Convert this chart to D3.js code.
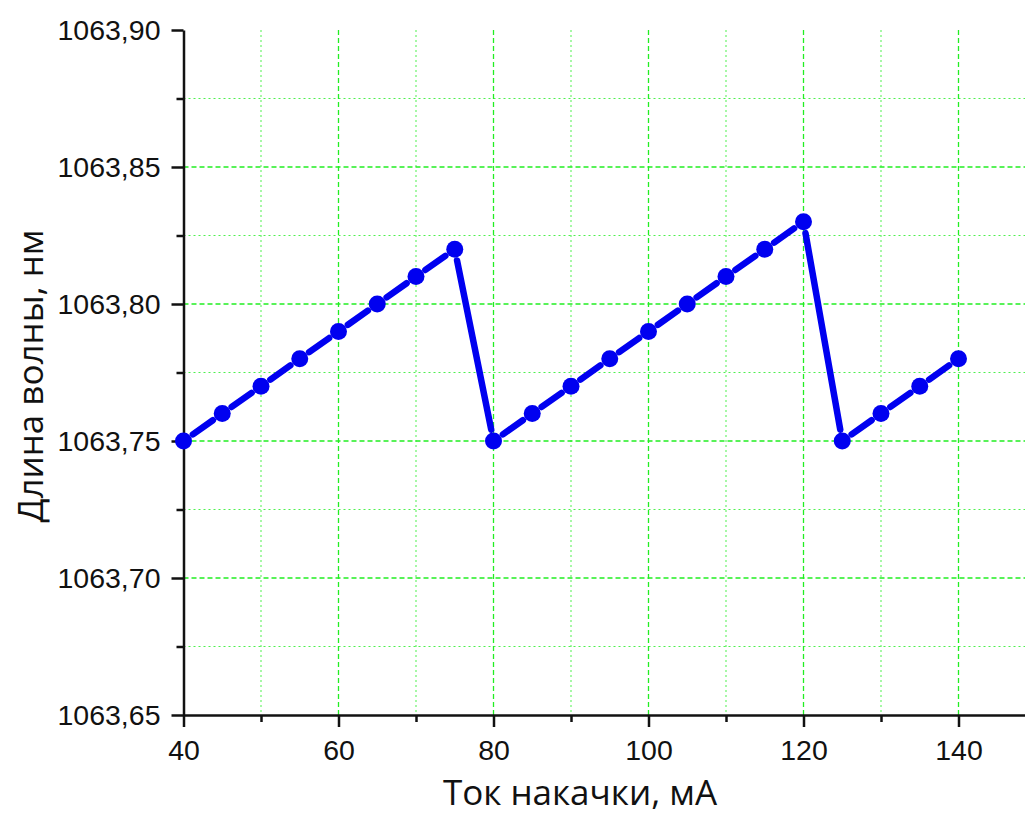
<!DOCTYPE html>
<html>
<head>
<meta charset="utf-8">
<style>
    body, html { margin: 0; padding: 0; background: #fff; }
    svg { display: block; }
</style>
</head>
<body>
<svg width="1025" height="817"></svg>
<script src="https://d3js.org/d3.v7.min.js"></script>
<script>
    // data
    var current = [40, 45, 50, 55, 60, 65, 70, 75, 80, 85, 90, 95, 100, 105, 110, 115, 120, 125, 130, 135, 140];
    var wavelength = [1063.75, 1063.76, 1063.77, 1063.78, 1063.79, 1063.80, 1063.81, 1063.82,
                      1063.75, 1063.76, 1063.77, 1063.78, 1063.79, 1063.80, 1063.81, 1063.82, 1063.83,
                      1063.75, 1063.76, 1063.77, 1063.78];
    var xMajor = [40, 60, 80, 100, 120, 140];
    var xMinor = [50, 70, 90, 110, 130, 150];
    var yMajor = [1063.65, 1063.70, 1063.75, 1063.80, 1063.85, 1063.90];
    var yMinor = [1063.675, 1063.725, 1063.775, 1063.825, 1063.875];

    var svg = d3.select("svg");
    var W = 1025, H = 817;

    var x = d3.scaleLinear().domain([40, 150]).range([183.5, 1036]);
    var y = d3.scaleLinear().domain([1063.65, 1063.90]).range([715, 30]);

    svg.append("rect").attr("width", W).attr("height", H).attr("fill", "#fff");

    var grid = svg.append("g");
    var gridColor = "#22ee22";

    // vertical grid
    grid.selectAll(".vmaj").data(xMajor.slice(1)).enter().append("line")
        .attr("x1", d => x(d)).attr("x2", d => x(d))
        .attr("y1", y(1063.90)).attr("y2", y(1063.65))
        .attr("stroke", gridColor).attr("stroke-width", 1.3).attr("stroke-dasharray", "5,3");
    grid.selectAll(".vmin").data(xMinor).enter().append("line")
        .attr("x1", d => x(d)).attr("x2", d => x(d))
        .attr("y1", y(1063.90)).attr("y2", y(1063.65))
        .attr("stroke", gridColor).attr("stroke-opacity", 0.8).attr("stroke-width", 1).attr("stroke-dasharray", "2,3");

    // horizontal grid
    grid.selectAll(".hmaj").data(yMajor.slice(1, -1)).enter().append("line")
        .attr("x1", x(40)).attr("x2", x(150))
        .attr("y1", d => y(d)).attr("y2", d => y(d))
        .attr("stroke", gridColor).attr("stroke-width", 1.3).attr("stroke-dasharray", "5,3");
    grid.selectAll(".hmin").data(yMinor).enter().append("line")
        .attr("x1", x(40)).attr("x2", x(150))
        .attr("y1", d => y(d)).attr("y2", d => y(d))
        .attr("stroke", gridColor).attr("stroke-opacity", 0.8).attr("stroke-width", 1).attr("stroke-dasharray", "2,3");

    // axes
    var fmtY = d => d3.format(".2f")(d).replace(".", ",");

    svg.append("g").attr("transform", "translate(0," + y(1063.65) + ")")
        .call(d3.axisBottom(x).tickValues(xMajor).tickSize(12).tickPadding(13).tickSizeOuter(0));
    svg.append("g").attr("transform", "translate(0," + y(1063.65) + ")")
        .call(d3.axisBottom(x).tickValues(xMinor).tickSize(7).tickFormat("").tickSizeOuter(0))
        .select(".domain").remove();

    svg.append("g").attr("transform", "translate(" + x(40) + ",0)")
        .call(d3.axisLeft(y).tickValues(yMajor).tickSize(12).tickPadding(11).tickFormat(fmtY).tickSizeOuter(0));
    svg.append("g").attr("transform", "translate(" + x(40) + ",0)")
        .call(d3.axisLeft(y).tickValues(yMinor).tickSize(7).tickFormat("").tickSizeOuter(0))
        .select(".domain").remove();

    svg.selectAll(".domain").attr("stroke", "#111").attr("stroke-width", 2.5);
    svg.selectAll(".tick line").attr("stroke", "#111").attr("stroke-width", 2.5);
    svg.selectAll(".tick text").attr("fill", "#111")
        .style("font-family", "'Liberation Sans', Arial, sans-serif").style("font-size", "28.5px");

    // data line, with gaps around markers
    var r = 8.5, gap = 3;
    var pts = current.map((c, i) => [x(c), y(wavelength[i])]);
    var segs = d3.pairs(pts).map(function (p) {
        var dx = p[1][0] - p[0][0], dy = p[1][1] - p[0][1];
        var len = Math.sqrt(dx * dx + dy * dy), k = (r + gap) / len;
        return [p[0][0] + dx * k, p[0][1] + dy * k, p[1][0] - dx * k, p[1][1] - dy * k];
    });
    svg.append("g").selectAll("line").data(segs).enter().append("line")
        .attr("x1", d => d[0]).attr("y1", d => d[1]).attr("x2", d => d[2]).attr("y2", d => d[3])
        .attr("stroke", "#0000f0").attr("stroke-width", 6.5).attr("stroke-linecap", "round");

    svg.append("g").selectAll("circle").data(current).enter().append("circle")
        .attr("cx", d => x(d)).attr("cy", (d, i) => y(wavelength[i])).attr("r", r)
        .attr("fill", "#0000f0");

    // titles
    svg.append("text")
        .attr("x", 580).attr("y", 805).attr("text-anchor", "middle")
        .style("font-family", "'Open Sans', sans-serif").style("font-size", "35px").attr("fill", "#111")
        .text("Ток накачки, мА");
    svg.append("text")
        .attr("transform", "translate(43," + 376 + ") rotate(-90)").attr("text-anchor", "middle")
        .style("font-family", "'Open Sans', sans-serif").style("font-size", "35px").attr("fill", "#111")
        .text("Длина волны, нм");
</script>
</body>
</html>
